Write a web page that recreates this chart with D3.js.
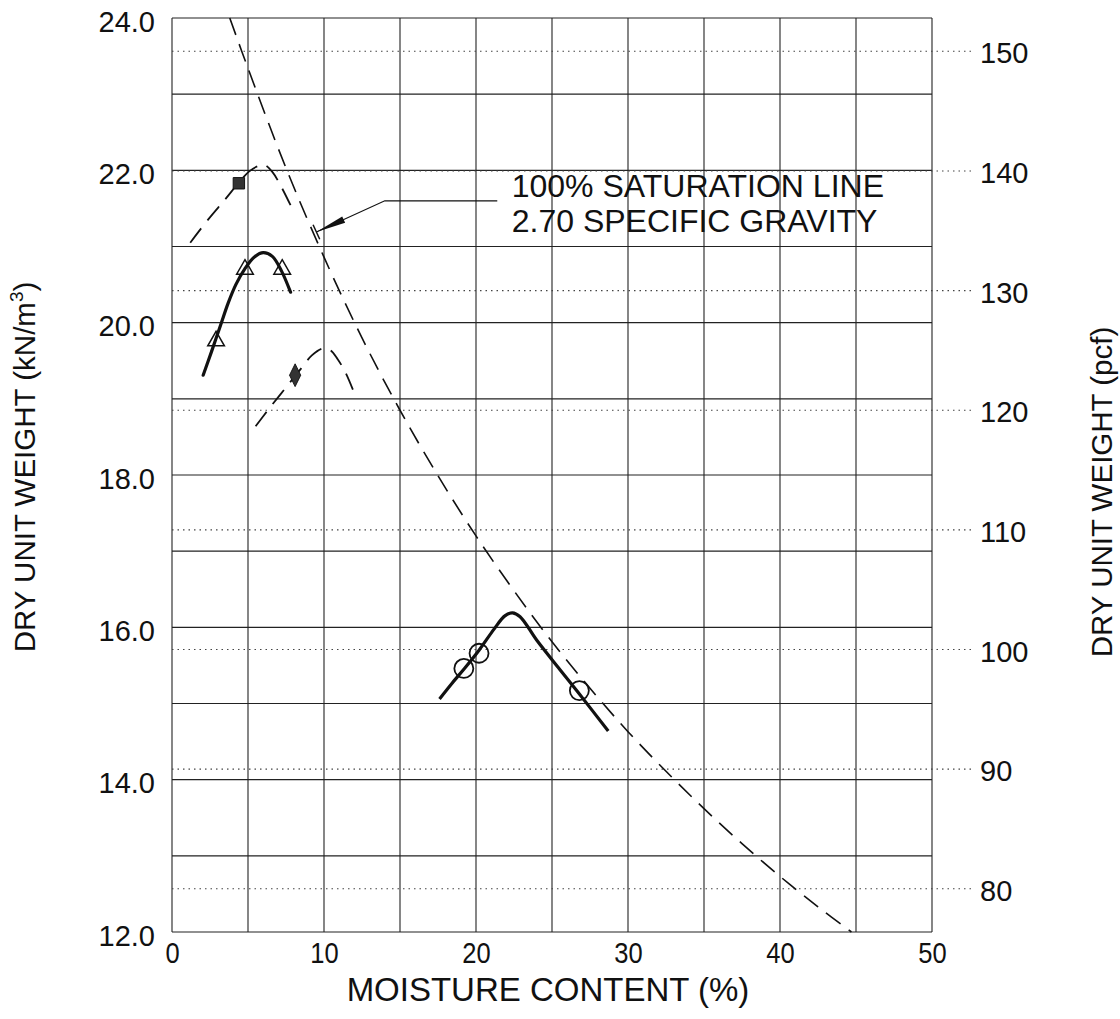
<!DOCTYPE html>
<html>
<head>
<meta charset="utf-8">
<script src="https://cdn.jsdelivr.net/npm/d3@7/dist/d3.min.js"></script>
<style>
  html, body { margin: 0; padding: 0; background: #fff; }
  svg { display: block; font-family: "Liberation Sans", Arial, sans-serif; }
</style>
</head>
<body>
<svg id="chart" width="1120" height="1019"></svg>
<script>
// ---------------- data ----------------
const xTicks = [0, 10, 20, 30, 40, 50];
const xGrid = [0, 5, 10, 15, 20, 25, 30, 35, 40, 45, 50];
const yTicksKN = [12.0, 14.0, 16.0, 18.0, 20.0, 22.0, 24.0];
const yGridKN = [12, 13, 14, 15, 16, 17, 18, 19, 20, 21, 22, 23, 24];
const yTicksPcf = [80, 90, 100, 110, 120, 130, 140, 150];

// 100% saturation line (Gs = 2.70)
const satW  = [3.8, 5.0, 7.5, 10.0, 12.5, 15.0, 17.5, 20.0, 22.5, 25.0, 27.5, 30.0, 32.5, 35.0, 37.5, 40.0, 42.5, 44.7];
const satGd = [24.0, 23.34, 22.03, 20.86, 19.80, 18.85, 17.99, 17.20, 16.48, 15.81, 15.20, 14.63, 14.11, 13.62, 13.16, 12.73, 12.33, 12.0];

// square-marker curve (dashed)
const sqCurveW  = [1.2, 2.4, 3.5, 4.4, 5.1, 5.7, 6.1, 6.6, 7.2, 7.9];
const sqCurveGd = [21.05, 21.36, 21.62, 21.84, 21.99, 22.06, 22.07, 21.98, 21.78, 21.50];
const sqPtsW  = [4.4];
const sqPtsGd = [21.83];

// triangle-marker curve (solid)
const triCurveW  = [2.05, 2.6, 3.2, 3.7, 4.2, 4.8, 5.4, 6.0, 6.6, 7.2, 7.8];
const triCurveGd = [19.31, 19.62, 19.97, 20.26, 20.50, 20.71, 20.86, 20.92, 20.87, 20.68, 20.40];
const triPtsW  = [2.9, 4.8, 7.25];
const triPtsGd = [19.76, 20.70, 20.70];

// diamond-marker curve (dashed)
const diaCurveW  = [5.5, 6.5, 7.5, 8.5, 9.2, 9.9, 10.4, 10.9, 11.4, 11.9];
const diaCurveGd = [18.64, 18.90, 19.15, 19.40, 19.57, 19.66, 19.64, 19.52, 19.35, 19.12];
const diaPtsW  = [8.1];
const diaPtsGd = [19.31];

// circle-marker curve (solid)
const cirCurveW  = [17.6, 18.4, 19.2, 20.2, 21.2, 21.9, 22.4, 22.9, 24.0, 25.5, 26.7, 28.7];
const cirCurveGd = [15.06, 15.26, 15.45, 15.70, 15.98, 16.15, 16.19, 16.14, 15.83, 15.45, 15.15, 14.64];
const cirPtsW  = [19.2, 20.2, 26.8];
const cirPtsGd = [15.46, 15.66, 15.17];

// annotation (data units)
const annoText = ["100% SATURATION LINE", "2.70 SPECIFIC GRAVITY"];
const annoTip = [9.5, 21.19];
const annoElbow = [14.0, 21.6];
const annoEnd = [21.4, 21.6];

const xTitle = "MOISTURE CONTENT (%)";
const yTitleLeft = "DRY UNIT WEIGHT (kN/m";
const yTitleRight = "DRY UNIT WEIGHT (pcf)";

// ---------------- layout ----------------
const KN_PER_PCF = 0.157087;
const L = 172, R = 932, T = 18, B = 932;
const svg = d3.select("#chart");
svg.append("rect").attr("width", 1120).attr("height", 1019).attr("fill", "#fff");

const x = d3.scaleLinear().domain([0, 50]).range([L, R]);
const y = d3.scaleLinear().domain([12, 24]).range([B, T]);
const yP = d3.scaleLinear().domain([12 / KN_PER_PCF, 24 / KN_PER_PCF]).range([B, T]);

const grid = svg.append("g");
grid.selectAll("line.v").data(xGrid).join("line")
  .attr("x1", d => x(d)).attr("x2", d => x(d))
  .attr("y1", T).attr("y2", B)
  .attr("stroke", "#222").attr("stroke-width", 1.1);
grid.selectAll("line.h").data(yGridKN).join("line")
  .attr("x1", L).attr("x2", R)
  .attr("y1", d => y(d)).attr("y2", d => y(d))
  .attr("stroke", "#222").attr("stroke-width", 1.1);
grid.selectAll("line.p").data(yTicksPcf).join("line")
  .attr("x1", L).attr("x2", 972)
  .attr("y1", d => yP(d)).attr("y2", d => yP(d))
  .attr("stroke", "#444").attr("stroke-width", 1.1)
  .attr("stroke-dasharray", "1.5,4");

const fam = '"Liberation Sans", Arial, sans-serif';
const axL = svg.append("g").attr("transform", `translate(${L},0)`)
  .call(d3.axisLeft(y).tickValues(yTicksKN).tickFormat(d3.format(".1f")).tickSize(0).tickPadding(17));
const axB = svg.append("g").attr("transform", `translate(0,${B})`)
  .call(d3.axisBottom(x).tickValues(xTicks).tickFormat(d3.format("d")).tickSize(0).tickPadding(10));
const axR = svg.append("g").attr("transform", `translate(${R},0)`)
  .call(d3.axisRight(yP).tickValues(yTicksPcf).tickFormat(d3.format("d")).tickSize(0).tickPadding(48));
[axL, axB, axR].forEach(a => a.select(".domain").remove());
axL.selectAll("text").attr("font-size", 29).attr("fill", "#111").attr("font-family", fam).attr("dy", "0.45em");
axR.selectAll("text").attr("font-size", 29).attr("fill", "#111").attr("font-family", fam).attr("dy", "0.4em");
axB.selectAll("text").attr("font-size", 29).attr("fill", "#111").attr("font-family", fam)
  .attr("transform", "scale(0.88,1)");

// titles
svg.append("text").attr("x", x(25) - 4).attr("y", 1001).attr("text-anchor", "middle")
  .attr("font-size", 33).attr("fill", "#111").text(xTitle);
const lt = svg.append("text").attr("transform", `translate(35,${(T + B) / 2 - 8}) rotate(-90)`)
  .attr("text-anchor", "middle").attr("font-size", 29.5).attr("fill", "#111");
lt.append("tspan").text(yTitleLeft);
lt.append("tspan").attr("dy", -12).attr("font-size", 19).text("3");
lt.append("tspan").attr("dy", 12).text(")");
svg.append("text").attr("transform", `translate(1112,${(T + B) / 2 + 17}) rotate(-90)`)
  .attr("text-anchor", "middle").attr("font-size", 29.5).attr("fill", "#111").text(yTitleRight);

// ---------------- curves ----------------
const plot = svg.append("g");
const zip = (a, b) => a.map((v, i) => [v, b[i]]);
const line = d3.line().x(d => x(d[0])).y(d => y(d[1])).curve(d3.curveCatmullRom.alpha(0.5));

plot.append("path").datum(zip(satW, satGd)).attr("d", line)
  .attr("fill", "none").attr("stroke", "#111").attr("stroke-width", 1.6)
  .attr("stroke-dasharray", "18,10");

plot.append("path").datum(zip(sqCurveW, sqCurveGd)).attr("d", line)
  .attr("fill", "none").attr("stroke", "#111").attr("stroke-width", 1.8)
  .attr("stroke-dasharray", "18,10");

plot.append("path").datum(zip(diaCurveW, diaCurveGd)).attr("d", line)
  .attr("fill", "none").attr("stroke", "#111").attr("stroke-width", 1.8)
  .attr("stroke-dasharray", "18,10");

plot.append("path").datum(zip(triCurveW, triCurveGd)).attr("d", line)
  .attr("fill", "none").attr("stroke", "#111").attr("stroke-width", 3.2)
  .attr("stroke-linecap", "round");

plot.append("path").datum(zip(cirCurveW, cirCurveGd)).attr("d", line)
  .attr("fill", "none").attr("stroke", "#111").attr("stroke-width", 3.2)
  .attr("stroke-linecap", "butt");

// markers
const sym = (type, size) => d3.symbol().type(type).size(size)();
plot.selectAll("path.sq").data(zip(sqPtsW, sqPtsGd)).join("path")
  .attr("transform", d => `translate(${x(d[0])},${y(d[1])})`)
  .attr("d", sym(d3.symbolSquare, 130)).attr("fill", "#333").attr("stroke", "#111").attr("stroke-width", 1);
plot.selectAll("path.dia").data(zip(diaPtsW, diaPtsGd)).join("path")
  .attr("transform", d => `translate(${x(d[0])},${y(d[1])}) scale(0.85,1)`)
  .attr("d", sym(d3.symbolDiamond, 150)).attr("fill", "#333").attr("stroke", "#111").attr("stroke-width", 1);
plot.selectAll("path.tri").data(zip(triPtsW, triPtsGd)).join("path")
  .attr("transform", d => `translate(${x(d[0])},${y(d[1])})`)
  .attr("d", sym(d3.symbolTriangle, 120)).attr("fill", "none")
  .attr("stroke", "#111").attr("stroke-width", 1.5);
plot.selectAll("circle.c").data(zip(cirPtsW, cirPtsGd)).join("circle")
  .attr("cx", d => x(d[0])).attr("cy", d => y(d[1])).attr("r", 9.5)
  .attr("fill", "none").attr("stroke", "#111").attr("stroke-width", 1.8);

// ---------------- annotation ----------------
const tip = [x(annoTip[0]), y(annoTip[1])];
const elb = [x(annoElbow[0]), y(annoElbow[1])];
const end = [x(annoEnd[0]), y(annoEnd[1])];
plot.append("polyline")
  .attr("points", [tip, elb, end].map(p => p.join(",")).join(" "))
  .attr("fill", "none").attr("stroke", "#111").attr("stroke-width", 1.2);
const ang = Math.atan2(elb[1] - tip[1], elb[0] - tip[0]);
const aL = 30, aW = 3.5;
const ux = Math.cos(ang), uy = Math.sin(ang);
const base = [tip[0] + ux * aL, tip[1] + uy * aL];
plot.append("polygon")
  .attr("points", [tip, [base[0] - uy * aW, base[1] + ux * aW], [base[0] + uy * aW, base[1] - ux * aW]].map(p => p.join(",")).join(" "))
  .attr("fill", "#111");
plot.append("line")
  .attr("x1", tip[0] + uy * 8).attr("y1", tip[1] - ux * 8)
  .attr("x2", tip[0] - uy * 8).attr("y2", tip[1] + ux * 8)
  .attr("stroke", "#111").attr("stroke-width", 1.5);

const at = svg.append("g");
at.selectAll("text").data(annoText).join("text")
  .attr("x", x(22.35)).attr("y", (d, i) => y(21.6) - 4 + i * 35)
  .attr("font-size", 32).attr("fill", "#111").text(d => d);
</script>
</body>
</html>
